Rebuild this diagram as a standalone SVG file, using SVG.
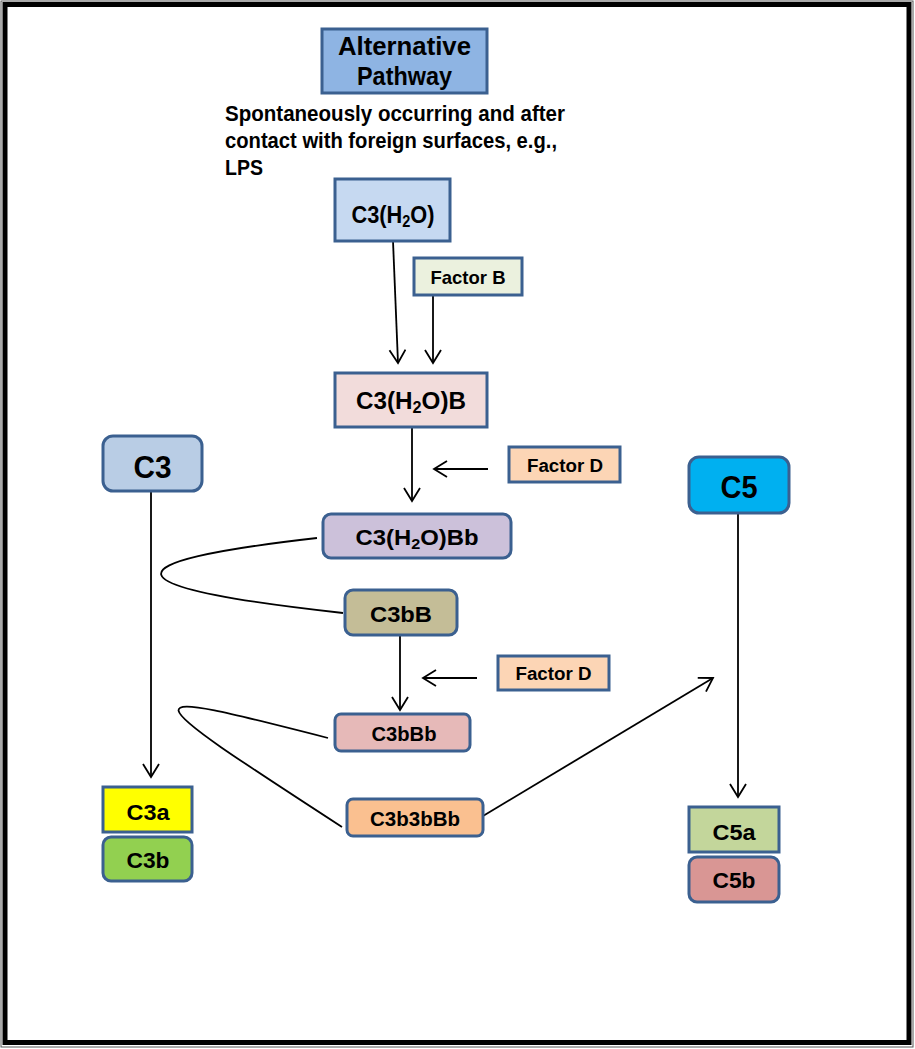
<svg xmlns="http://www.w3.org/2000/svg" width="915" height="1049" viewBox="0 0 915 1049">
<style>
.box{stroke:#3B6090;stroke-width:3}
.lbl{font-family:"Liberation Sans",Arial,sans-serif;font-weight:bold;fill:#000;text-anchor:middle}
.sub{baseline-shift:-4px}
.con{fill:none;stroke:#000;stroke-width:1.8}
.arr{marker-end:url(#ah)}
.note{font-family:"Liberation Sans",Arial,sans-serif;font-weight:bold;font-size:22px;fill:#000}
</style>
<defs>
<marker id="ah" markerUnits="userSpaceOnUse" markerWidth="16" markerHeight="18" viewBox="0 0 16 18" refX="14" refY="9" orient="auto">
<path d="M1,1 L14,9 L1,17" fill="none" stroke="#000" stroke-width="1.8"/>
</marker>
</defs>
<rect x="0" y="0" width="915" height="1049" fill="#fff"/>
<rect x="1" y="1" width="912" height="1046" fill="none" stroke="#555" stroke-width="1"/>
<rect x="5" y="4.5" width="904" height="1038" fill="none" stroke="#000" stroke-width="5"/>

<g id="connectors">
<path class="con arr" d="M393,241 L398,363"/>
<path class="con arr" d="M433,295 L433,363"/>
<path class="con arr" d="M412,427 L412,501"/>
<path class="con arr" d="M488,469 L434,469"/>
<path class="con" d="M317,538 C105,562 105,587 343,613"/>
<path class="con arr" d="M400,635 L400,710"/>
<path class="con arr" d="M477,678 L423,678"/>
<path class="con" d="M328,738 C125,686 128,688 342,827"/>
<path class="con arr" d="M483,816 L713,678"/>
<path class="con arr" d="M151,491 L151,777"/>
<path class="con arr" d="M738,513 L738,797"/>
</g>

<g id="alt-pathway">
<rect class="box" x="322" y="29" width="165" height="64" fill="#8EB4E3"/>
<text class="lbl" x="404.5" y="55" font-size="25" textLength="133" lengthAdjust="spacingAndGlyphs">Alternative</text>
<text class="lbl" x="404.5" y="85" font-size="25" textLength="95" lengthAdjust="spacingAndGlyphs">Pathway</text>
</g>

<g id="note">
<text class="note" x="225" y="121" textLength="340" lengthAdjust="spacingAndGlyphs">Spontaneously occurring and after</text>
<text class="note" x="225" y="148" textLength="332" lengthAdjust="spacingAndGlyphs">contact with foreign surfaces, e.g.,</text>
<text class="note" x="225" y="175" textLength="38" lengthAdjust="spacingAndGlyphs">LPS</text>
</g>

<g id="c3h2o">
<rect class="box" x="335" y="179" width="115" height="62" fill="#C6D9F1"/>
<text class="lbl" x="393" y="223" font-size="24" textLength="83" lengthAdjust="spacingAndGlyphs">C3(H<tspan class="sub" font-size="16">2</tspan>O)</text>
</g>

<g id="factor-b">
<rect class="box" x="414" y="258" width="108" height="37" fill="#EBF1DE"/>
<text class="lbl" x="468" y="284" font-size="19" textLength="75" lengthAdjust="spacingAndGlyphs">Factor B</text>
</g>

<g id="c3h2ob">
<rect class="box" x="335" y="373" width="152" height="54" fill="#F2DCDB"/>
<text class="lbl" x="411" y="409" font-size="24" textLength="110" lengthAdjust="spacingAndGlyphs">C3(H<tspan class="sub" font-size="16">2</tspan>O)B</text>
</g>

<g id="factor-d1">
<rect class="box" x="509" y="447" width="111" height="35" fill="#FCD5B5"/>
<text class="lbl" x="565" y="472" font-size="18" textLength="76" lengthAdjust="spacingAndGlyphs">Factor D</text>
</g>

<g id="c3">
<rect class="box" x="103" y="436" width="99" height="55" rx="10" fill="#B9CDE5"/>
<text class="lbl" x="152.5" y="478" font-size="32" textLength="38" lengthAdjust="spacingAndGlyphs">C3</text>
</g>

<g id="c3h2obb">
<rect class="box" x="323" y="514" width="188" height="44" rx="8" fill="#CCC1DA"/>
<text class="lbl" x="417" y="545" font-size="22" textLength="123" lengthAdjust="spacingAndGlyphs">C3(H<tspan class="sub" font-size="15">2</tspan>O)Bb</text>
</g>

<g id="c5">
<rect class="box" x="689" y="457" width="100" height="56" rx="10" fill="#00B0F0"/>
<text class="lbl" x="739" y="498" font-size="32" textLength="37" lengthAdjust="spacingAndGlyphs">C5</text>
</g>

<g id="c3bb">
<rect class="box" x="345" y="590" width="112" height="45" rx="8" fill="#C4BD97"/>
<text class="lbl" x="401" y="622" font-size="22" textLength="62" lengthAdjust="spacingAndGlyphs">C3bB</text>
</g>

<g id="factor-d2">
<rect class="box" x="498" y="656" width="111" height="34" fill="#FCD5B5"/>
<text class="lbl" x="553.5" y="680" font-size="18" textLength="76" lengthAdjust="spacingAndGlyphs">Factor D</text>
</g>

<g id="c3bbb">
<rect class="box" x="335" y="714" width="135" height="37" rx="6" fill="#E6B9B8"/>
<text class="lbl" x="404" y="741" font-size="21" textLength="65" lengthAdjust="spacingAndGlyphs">C3bBb</text>
</g>

<g id="c3b3bbb">
<rect class="box" x="347" y="799" width="136" height="37" rx="6" fill="#FAC090"/>
<text class="lbl" x="415" y="826" font-size="21" textLength="90" lengthAdjust="spacingAndGlyphs">C3b3bBb</text>
</g>

<g id="c3a">
<rect class="box" x="103" y="787" width="89" height="45" fill="#FFFF00"/>
<text class="lbl" x="148" y="820" font-size="22" textLength="43" lengthAdjust="spacingAndGlyphs">C3a</text>
</g>

<g id="c3b">
<rect class="box" x="103" y="837" width="89" height="44" rx="8" fill="#92D050"/>
<text class="lbl" x="148" y="868" font-size="22" textLength="43" lengthAdjust="spacingAndGlyphs">C3b</text>
</g>

<g id="c5a">
<rect class="box" x="689" y="807" width="90" height="45" fill="#C3D69B"/>
<text class="lbl" x="734" y="840" font-size="22" textLength="43" lengthAdjust="spacingAndGlyphs">C5a</text>
</g>

<g id="c5b">
<rect class="box" x="689" y="857" width="90" height="45" rx="8" fill="#D99694"/>
<text class="lbl" x="734" y="888" font-size="22" textLength="43" lengthAdjust="spacingAndGlyphs">C5b</text>
</g>
</svg>
